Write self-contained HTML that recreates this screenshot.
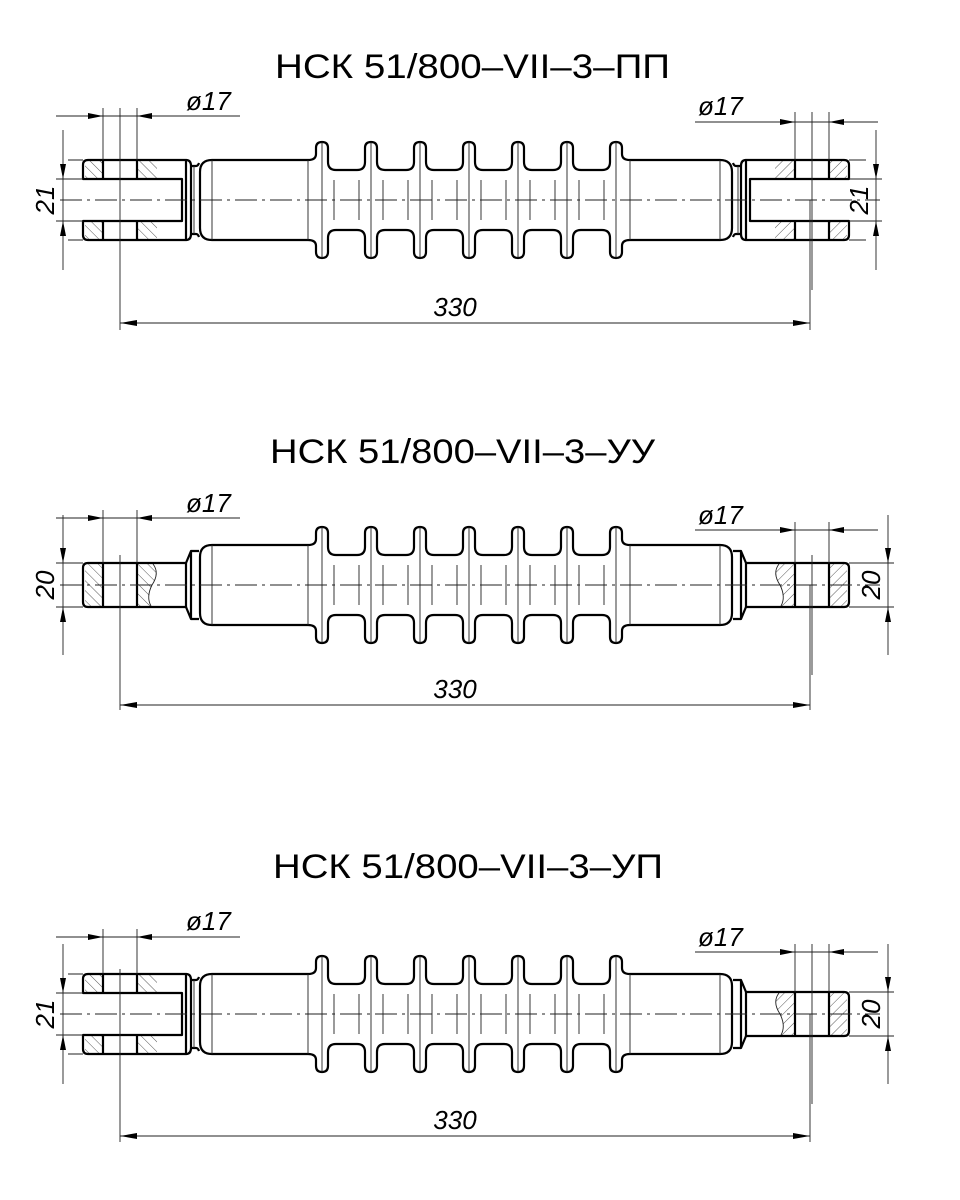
<!DOCTYPE html>
<html><head><meta charset="utf-8"><style>
html,body{margin:0;padding:0;background:#fff;}
svg{display:block;}
text{font-family:"Liberation Sans","DejaVu Sans",sans-serif;fill:#000;}
.t{font-size:34px;}
.d{font-size:26px;font-style:italic;}
.k{fill:none;stroke:#000;stroke-width:2.2;stroke-linejoin:round;}
.n{fill:none;stroke:#222;stroke-width:0.9;}
.c{fill:none;stroke:#222;stroke-width:0.9;stroke-dasharray:22 5 3 5;}
</style></head><body>
<svg width="960" height="1200" viewBox="0 0 960 1200" xmlns="http://www.w3.org/2000/svg">
<defs>
<pattern id="h" patternUnits="userSpaceOnUse" width="7" height="7" patternTransform="rotate(-45)">
<line x1="0" y1="0" x2="0" y2="7" stroke="#444" stroke-width="0.9"/>
</pattern>
<path id="top" class="k" d="M200,-28 Q200,-40 212,-40 L308,-40 Q316,-40 316,-46 L316,-52 Q316,-58 322,-58 Q328,-58 328,-52 L328,-38 Q328,-30 336,-30
L357,-30 Q365,-30 365,-38 L365,-52 Q365,-58 371,-58 Q377,-58 377,-52 L377,-38 Q377,-30 385,-30
L406,-30 Q414,-30 414,-38 L414,-52 Q414,-58 420,-58 Q426,-58 426,-52 L426,-38 Q426,-30 434,-30
L455,-30 Q463,-30 463,-38 L463,-52 Q463,-58 469,-58 Q475,-58 475,-52 L475,-38 Q475,-30 483,-30
L504,-30 Q512,-30 512,-38 L512,-52 Q512,-58 518,-58 Q524,-58 524,-52 L524,-38 Q524,-30 532,-30
L553,-30 Q561,-30 561,-38 L561,-52 Q561,-58 567,-58 Q573,-58 573,-52 L573,-38 Q573,-30 581,-30
L602,-30 Q610,-30 610,-38 L610,-52 Q610,-58 616,-58 Q622,-58 622,-52 L622,-46 Q622,-40 630,-40 L720,-40 Q732,-40 732,-28"/>
<g id="body">
<use href="#top"/>
<use href="#top" transform="scale(1,-1)"/>
<path class="k" d="M200,-28 V28 M732,-28 V28"/>
<path class="n" d="M212,-40V40 M308,-40V40 M630,-40V40 M720,-40V40
M322,-58V58 M371,-58V58 M420,-58V58 M469,-58V58 M518,-58V58 M567,-58V58 M616,-58V58
M334,-20V20 M359,-20V20 M383,-20V20 M408,-20V20 M432,-20V20 M457,-20V20 M481,-20V20 M506,-20V20 M530,-20V20 M555,-20V20 M579,-20V20 M604,-20V20"/>
</g>
<g id="fork">
<rect x="85" y="-39" width="18" height="18" fill="url(#h)"/>
<rect x="137" y="-39" width="20" height="18" fill="url(#h)"/>
<rect x="85" y="21" width="18" height="18" fill="url(#h)"/>
<rect x="137" y="21" width="20" height="18" fill="url(#h)"/>
<path class="k" d="M186,-40 L88,-40 Q83,-40 83,-35 L83,-21 L182,-21 L182,21 L83,21 L83,35 Q83,40 88,40 L186,40 Z"/>
<path class="k" d="M103,-40V-21 M137,-40V-21 M103,21V40 M137,21V40"/>
<path class="k" d="M186,-40 Q191,-40 191,-34 L191,34 Q191,40 186,40 M191,-34 L196,-34 Q198,-34 199,-37 M191,34 L196,34 Q198,34 199,37"/>
<path class="n" d="M194,-34V34"/>
</g>
<g id="rod">
<rect x="85" y="-21" width="18" height="42" fill="url(#h)"/>
<path d="M137,-21 L153,-21 Q160,-12 152,0 Q146,12 151,21 L137,21Z" fill="url(#h)"/>
<path class="n" d="M153,-21 Q160,-12 152,0 Q146,12 151,21"/>
<path class="k" d="M186,-22 L88,-22 Q83,-22 83,-17 L83,17 Q83,22 88,22 L186,22 Z M103,-22V22 M137,-22V22"/>
<path class="k" d="M186,-22 L191,-34 L199,-34 M186,22 L191,34 L199,34 M191,-34V34"/>
</g>
</defs>

<!-- Drawing 1 -->
<text class="t" x="275" y="78" textLength="395" lengthAdjust="spacingAndGlyphs">НСК 51/800–VII–3–ПП</text>
<g transform="translate(0,200)">
<use href="#body"/>
<use href="#fork"/>
<use href="#fork" transform="matrix(-1,0,0,1,932,0)"/>
<path class="c" d="M60,0 H880"/>
<path class="n" d="M120,-92 V130 M812,-88 V90 M810,0 V130"/>
<path class="n" d="M56,-84 H240 M103,-92 V-40 M137,-92 V-40"/>
<polygon points="103,-84 88,-87 88,-81"/><polygon points="137,-84 152,-87 152,-81"/>
<text class="d" x="186" y="-90">ø17</text>
<path class="n" d="M695,-78 H878 M795,-88 V-40 M829,-88 V-40"/>
<polygon points="795,-78 780,-81 780,-75"/><polygon points="829,-78 844,-81 844,-75"/>
<text class="d" x="698" y="-85">ø17</text>
<path class="n" d="M63,-70 V70 M68,-40 H83 M56,-21 H83 M56,21 H83 M68,40 H83"/>
<polygon points="63,-21 60,-36 66,-36"/><polygon points="63,21 60,36 66,36"/>
<text class="d" transform="translate(54,0) rotate(-90)" text-anchor="middle">21</text>
<path class="n" d="M876,-70 V70 M849,-40 H866 M849,-21 H882 M849,21 H882 M849,40 H866"/>
<polygon points="876,-21 873,-36 879,-36"/><polygon points="876,21 873,36 879,36"/>
<text class="d" transform="translate(868,0) rotate(-90)" text-anchor="middle">21</text>
<path class="n" d="M120,123 H810"/>
<polygon points="120,123 137,120 137,126"/><polygon points="810,123 793,120 793,126"/>
<text class="d" x="455" y="116" text-anchor="middle">330</text>
</g>

<!-- Drawing 2 -->
<text class="t" x="270" y="463" textLength="385" lengthAdjust="spacingAndGlyphs">НСК 51/800–VII–3–УУ</text>
<g transform="translate(0,585)">
<use href="#body"/>
<use href="#rod"/>
<use href="#rod" transform="matrix(-1,0,0,1,932,0)"/>
<path class="c" d="M60,0 H880"/>
<path class="n" d="M120,-30 V125 M812,-30 V90 M810,0 V125"/>
<path class="n" d="M56,-67 H240 M103,-75 V-22 M137,-75 V-22"/>
<polygon points="103,-67 88,-70 88,-64"/><polygon points="137,-67 152,-70 152,-64"/>
<text class="d" x="186" y="-73">ø17</text>
<path class="n" d="M695,-55 H878 M795,-63 V-22 M829,-63 V-22"/>
<polygon points="795,-55 780,-58 780,-52"/><polygon points="829,-55 844,-58 844,-52"/>
<text class="d" x="698" y="-61">ø17</text>
<path class="n" d="M63,-70 V70 M56,-22 H83 M56,22 H83"/>
<polygon points="63,-22 60,-37 66,-37"/><polygon points="63,22 60,37 66,37"/>
<text class="d" transform="translate(54,0) rotate(-90)" text-anchor="middle">20</text>
<path class="n" d="M888,-70 V70 M849,-22 H894 M849,22 H894"/>
<polygon points="888,-22 885,-37 891,-37"/><polygon points="888,22 885,37 891,37"/>
<text class="d" transform="translate(880,0) rotate(-90)" text-anchor="middle">20</text>
<path class="n" d="M120,120 H810"/>
<polygon points="120,120 137,117 137,123"/><polygon points="810,120 793,117 793,123"/>
<text class="d" x="455" y="113" text-anchor="middle">330</text>
</g>

<!-- Drawing 3 -->
<text class="t" x="273" y="878" textLength="390" lengthAdjust="spacingAndGlyphs">НСК 51/800–VII–3–УП</text>
<g transform="translate(0,1014)">
<use href="#body"/>
<use href="#fork"/>
<use href="#rod" transform="matrix(-1,0,0,1,932,0)"/>
<path class="c" d="M60,0 H880"/>
<path class="n" d="M120,-45 V128 M812,-70 V90 M810,0 V128"/>
<path class="n" d="M56,-77 H240 M103,-85 V-40 M137,-85 V-40"/>
<polygon points="103,-77 88,-80 88,-74"/><polygon points="137,-77 152,-80 152,-74"/>
<text class="d" x="186" y="-84">ø17</text>
<path class="n" d="M695,-62 H878 M795,-70 V-22 M829,-70 V-22"/>
<polygon points="795,-62 780,-65 780,-59"/><polygon points="829,-62 844,-65 844,-59"/>
<text class="d" x="698" y="-68">ø17</text>
<path class="n" d="M63,-70 V70 M68,-40 H83 M56,-21 H83 M56,21 H83 M68,40 H83"/>
<polygon points="63,-21 60,-36 66,-36"/><polygon points="63,21 60,36 66,36"/>
<text class="d" transform="translate(54,0) rotate(-90)" text-anchor="middle">21</text>
<path class="n" d="M888,-70 V70 M849,-22 H894 M849,22 H894"/>
<polygon points="888,-22 885,-37 891,-37"/><polygon points="888,22 885,37 891,37"/>
<text class="d" transform="translate(880,0) rotate(-90)" text-anchor="middle">20</text>
<path class="n" d="M120,122 H810"/>
<polygon points="120,122 137,119 137,125"/><polygon points="810,122 793,119 793,125"/>
<text class="d" x="455" y="115" text-anchor="middle">330</text>
</g>
</svg>
</body></html>
